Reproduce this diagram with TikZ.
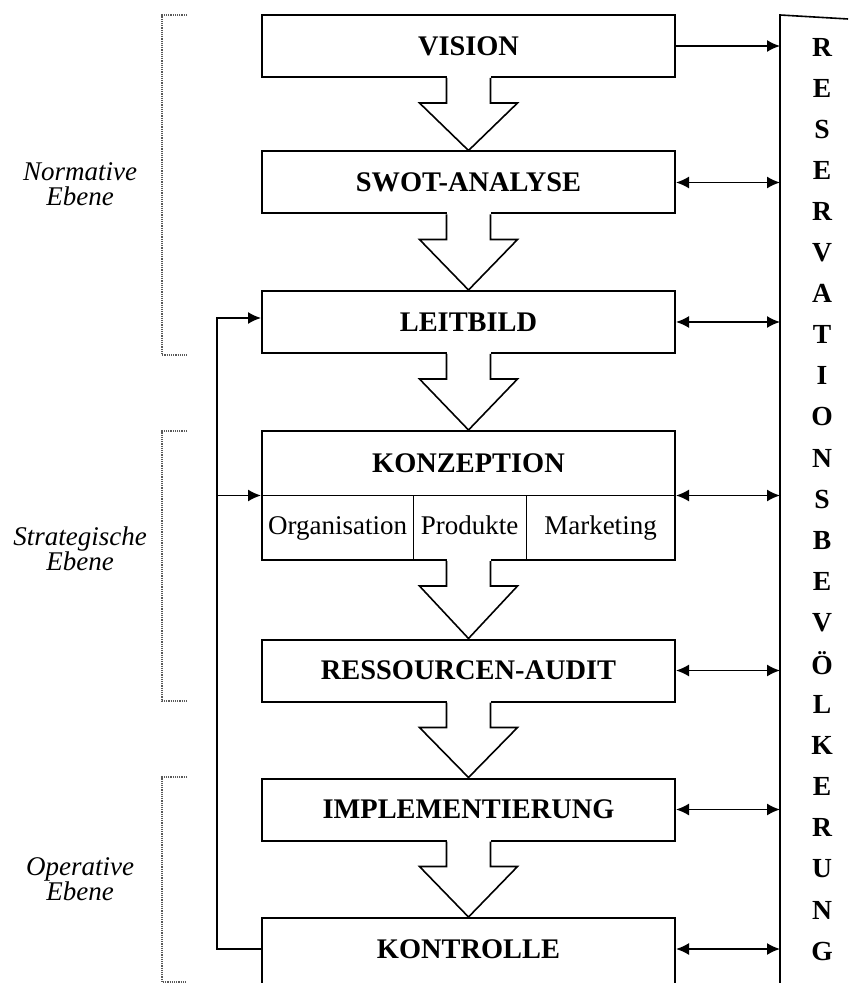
\documentclass[tikz,border=0pt]{standalone}
\usepackage{fontspec}
\setmainfont{Liberation Serif}
\usetikzlibrary{arrows.meta,calc}
\newcommand\stagefont{\fontsize{14.2}{15}\selectfont\bfseries}
\newcommand\levelfont{\fontsize{13.5}{12.5}\selectfont\itshape}
\tikzset{>={Latex[length=6.5pt,width=6pt]},
  every node/.style={inner sep=0pt},
  stage/.style={draw,line width=1pt,minimum width=206.5pt,minimum height=31pt,font=\stagefont},
  cell/.style={font=\fontsize{13.5}{15}\selectfont,text height=9pt,text depth=3pt},
  thinline/.style={draw,line width=.5pt},
  hollow/.style={draw,line width=.8pt,line join=miter},
  link/.style={line width=.8pt},
  bracket/.style={draw=black!65,line width=.6pt,dash pattern=on .6pt off .5pt},
  level/.style={align=center,font=\levelfont},
  letter/.style={font=\fontsize{13.8}{15}\selectfont\bfseries}}
% big open arrow from one stage down to the next
\newcommand\stagearrow[2]{%
  \fill[white] ($(#1.south)+(-22,-2)$) rectangle ($(#1.south)+(22,25)$);
  \draw[hollow] ($(#1.south)+(-22,0)$) -- ++(0,25) -- ++(-27,0) -- (#2.north)
    -- ($(#1.south)+(49,25)$) -- ++(-27,0) -- ($(#1.south)+(22,0)$);}

\begin{document}
\begin{tikzpicture}[x=0.5pt,y=-0.5pt]
\useasboundingbox (0,0) rectangle (848,983);
\clip (0,0) rectangle (848,983);

% stages
\foreach \name/\y/\txt in {vis/46/VISION,swot/182.5/SWOT-ANALYSE,leit/322/LEITBILD,
  res/670.5/RESSOURCEN-AUDIT,impl/809.5/IMPLEMENTIERUNG}
  \node[stage] (\name) at (468.5,\y) {\txt};
\node[stage,minimum height=37pt,anchor=north,text depth=6pt] (ktr) at (468.5,917) {KONTROLLE};

% Konzeption with its three fields
\node[stage,minimum height=64.5pt] (konz) at (468.5,495.5) {};
\node[font=\stagefont] (konzt) at (468.5,463) {KONZEPTION};
\draw[thinline] (konz.west) -- (konz.east);
\draw[thinline] (413,495.5) -- (413,560) (526,495.5) -- (526,560);
\node[cell] (org) at (337.5,528) {Organisation};
\node[cell] (prod) at (469.5,528) {Produkte};
\node[cell] (mark) at (600.5,528) {Marketing};

\stagearrow{vis}{swot}
\stagearrow{swot}{leit}
\stagearrow{leit}{konz}
\stagearrow{konz}{res}
\stagearrow{res}{impl}
\stagearrow{impl}{ktr}

% Reservationsbevoelkerung
\draw[line width=.8pt] (780,990) -- (780,15) -- (848,19);
\coordinate (rl) at (780,0);
\foreach \ch [count=\i from 0] in {R,E,S,E,R,V,A,T,I,O,N,S,B,E,V,Ö,L,K,E,R,U,N,G}
  \node[letter] (rv\i) at (822,{47+41.1*\i}) {\ch};

\draw[link,->] (vis.east) -- (vis.east -| rl);
\foreach \name in {swot,leit,konz,res,impl}
  \draw[link,<->] (\name.east) -- (\name.east -| rl);
\draw[link,<->] ([yshift=3pt]ktr.east) -- ([yshift=3pt]ktr.east -| rl);

% feedback loop
\coordinate (fb) at (217,0);
\draw[link,->] ([yshift=3pt]ktr.west) -- ([yshift=3pt]ktr.west -| fb) |- ([yshift=2pt]leit.west);
\draw[link,->] (fb |- konz.west) -- (konz.west);

% levels
\draw[bracket] (187,15) -| (162,355) -- (187,355);
\draw[bracket] (187,431) -| (162,701) -- (187,701);
\draw[bracket] (187,777) -| (162,982) -- (187,982);
\node[level] (norm) at (80,184) {Normative\\Ebene};
\node[level] (strat) at (80,549) {Strategische\\Ebene};
\node[level] (oper) at (80,879) {Operative\\Ebene};
\end{tikzpicture}
\end{document}
